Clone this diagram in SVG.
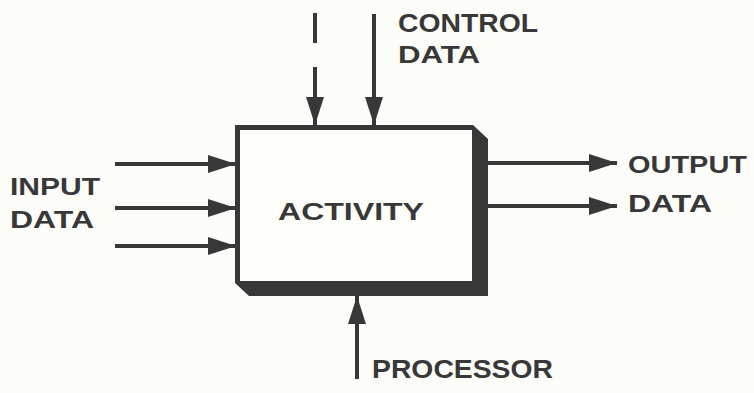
<svg xmlns="http://www.w3.org/2000/svg" width="754" height="393" viewBox="0 0 754 393">
<style>
.ln{stroke:#383838;stroke-width:4;fill:none;stroke-linecap:butt}
.t{font-family:"Liberation Sans",Arial,sans-serif;font-weight:bold;fill:#383838}
</style>
<defs>
<marker id="ah" viewBox="0 0 28 18" refX="28" refY="9" markerWidth="28" markerHeight="18" markerUnits="userSpaceOnUse" orient="auto">
<path d="M0,0 L28,9 L0,18 Z" fill="#383838"/>
</marker>
</defs>
<rect width="754" height="393" fill="#fcfcf8"/>
<g id="activity">
<path d="M235,125 L473,125 L488,139 L488,296 L249,296 L235,283 Z" fill="#383838"/>
<rect x="240" y="130" width="232" height="151" fill="#fdfdfa"/>
<text class="t" x="278" y="220" font-size="24" textLength="146" lengthAdjust="spacingAndGlyphs">ACTIVITY</text>
</g>
<g id="control-data">
<text class="t" x="398" y="32" font-size="25" textLength="140" lengthAdjust="spacingAndGlyphs">CONTROL</text>
<text class="t" x="398" y="63" font-size="24" textLength="82" lengthAdjust="spacingAndGlyphs">DATA</text>
</g>
<g id="input-data">
<text class="t" x="10" y="195" font-size="24" textLength="90" lengthAdjust="spacingAndGlyphs">INPUT</text>
<text class="t" x="10" y="228" font-size="24" textLength="84" lengthAdjust="spacingAndGlyphs">DATA</text>
</g>
<g id="output-data">
<text class="t" x="628" y="173" font-size="24" textLength="119" lengthAdjust="spacingAndGlyphs">OUTPUT</text>
<text class="t" x="628" y="212" font-size="24" textLength="84" lengthAdjust="spacingAndGlyphs">DATA</text>
</g>
<g id="processor">
<text class="t" x="372" y="378" font-size="26" textLength="181" lengthAdjust="spacingAndGlyphs">PROCESSOR</text>
</g>
<g id="connectors">
<line class="ln" x1="315" y1="13" x2="315" y2="43"/>
<line class="ln" x1="315" y1="67" x2="315" y2="125" marker-end="url(#ah)"/>
<line class="ln" x1="374" y1="14" x2="374" y2="125" marker-end="url(#ah)"/>
<line class="ln" x1="115" y1="164" x2="236" y2="164" marker-end="url(#ah)"/>
<line class="ln" x1="115" y1="208" x2="236" y2="208" marker-end="url(#ah)"/>
<line class="ln" x1="115" y1="246" x2="236" y2="246" marker-end="url(#ah)"/>
<line class="ln" x1="488" y1="163" x2="617" y2="163" marker-end="url(#ah)"/>
<line class="ln" x1="488" y1="206" x2="617" y2="206" marker-end="url(#ah)"/>
<line class="ln" x1="357" y1="379" x2="357" y2="296" marker-end="url(#ah)"/>
</g>
</svg>
